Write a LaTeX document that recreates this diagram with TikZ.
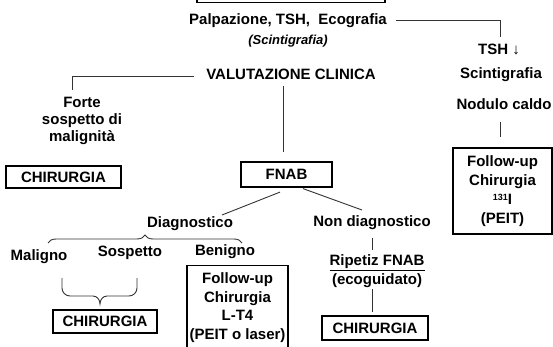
\documentclass[tikz,border=0pt]{standalone}
\usepackage{fontspec}
\setmainfont{Liberation Sans}
\usetikzlibrary{calc,decorations.pathreplacing}
\begin{document}
\begin{tikzpicture}[x=1pt,y=-1pt,
  txt/.style={font=\bfseries\fontsize{15}{17}\selectfont, align=center, inner sep=0pt},
  sub/.style={font=\bfseries\itshape\fontsize{13}{15}\selectfont, inner sep=0pt},
  boxed/.style={draw, line width=1.2pt, font=\bfseries\fontsize{15}{17}\selectfont, align=center, inner sep=0pt},
  conn/.style={line width=0.9pt, draw=black!80},
]
\useasboundingbox (0,0) rectangle (553,347);

% top: first examinations
\node[boxed, minimum width=188pt, minimum height=24pt, anchor=south] (exam) at (291,3.5) {};
\node[txt] (palp) at (288,21) {Palpazione, TSH,\ \ Ecografia};
\node[sub] (scin) at (288,41) {(Scintigrafia)};
\node[txt] (valut) at (291,74) {VALUTAZIONE CLINICA};

% right branch: low TSH
\node[txt] (tsh) at (499,49) {TSH {\mdseries ↓}};
\node[txt] (scin2) at (501,75) {Scintigrafia};
\node[txt] (caldo) at (504,104) {Nodulo caldo};
\node[boxed, minimum width=99pt, minimum height=86pt, font=\bfseries\fontsize{15}{19}\selectfont] (rbox) at (502.5,191)
  {Follow-up\\Chirurgia\\{\fontsize{9}{9}\selectfont\raisebox{4pt}{131}}I\\(PEIT)};

% left branch: strong suspicion
\node[txt] (forte) at (82,121) {Forte\\sospetto di\\malignità};
\node[boxed, minimum width=115pt, minimum height=22pt] (chirA) at (63.5,177) {CHIRURGIA};

% central branch: FNAB
\node[boxed, minimum width=91pt, minimum height=25pt] (fnab) at (286.5,174.5) {FNAB};
\node[txt] (diag) at (190,224) {Diagnostico};
\node[txt] (nondiag) at (372,223) {Non diagnostico};
\node[txt] (malig) at (39,257) {Maligno};
\node[txt] (sosp) at (130,253) {Sospetto};
\node[txt] (benig) at (225,252) {Benigno};
\node[boxed, minimum width=104pt, minimum height=23pt] (chirB) at (105,321.5) {CHIRURGIA};
\node[boxed, minimum width=101pt, minimum height=84pt, anchor=north, font=\bfseries\fontsize{15}{18.5}\selectfont] (benbox) at (237.5,265)
  {Follow-up\\Chirurgia\\L-T4\\(PEIT o laser)};
\node[txt] (ripet) at (377,263) {\underline{Ripetiz FNAB}};
\node[txt] (ecog) at (377,281) {(ecoguidato)};
\node[boxed, minimum width=106pt, minimum height=24pt] (chirC) at (375,328) {CHIRURGIA};

% connectors
\draw[conn] ($(palp.east)+(9,-0.5)$) -| ($(tsh.center)+(1.5,-12)$);
\draw[conn] ($(caldo.center)+(-3.5,18)$) -- ($(rbox.north)+(-2,-10)$);
\draw[conn] ($(valut.west)+(-12,2)$) -| ($(forte.center)+(-10,-31)$);
\draw[conn] ($(valut.center)+(-8,12)$) -- ($(fnab.north)+(-3.5,-9)$);
\draw[conn] ($(fnab.south)+(-6.5,4.5)$) -- ($(diag.center)+(32,-9)$);
\draw[conn] ($(fnab.south)+(16.5,1)$) -- ($(nondiag.center)+(-10,-13)$);
\draw[conn] ($(nondiag.center)+(0,15)$) -- ($(ripet.center)+(-5,-13)$);
\draw[conn] ($(ecog.center)+(-5,8)$) -- ($(chirC.north)+(-3,-3)$);

% brace grouping the three outcomes
\draw[conn, decorate, decoration={brace, amplitude=8pt}]
  ($(malig.center)+(9,-14)$) -- ($(benig.center)+(17,-9)$);

% brace joining Maligno and Sospetto
\coordinate (bl) at (62,278);
\coordinate (br) at (137,278);
\draw[conn] (bl) -- (62,288) to[out=-90,in=180] (70,296) -- (93,296)
  to[out=0,in=90] (100,304) to[out=90,in=180] (107,296) -- (129,296)
  to[out=0,in=-90] (137,288) -- (br);
\end{tikzpicture}
\end{document}
